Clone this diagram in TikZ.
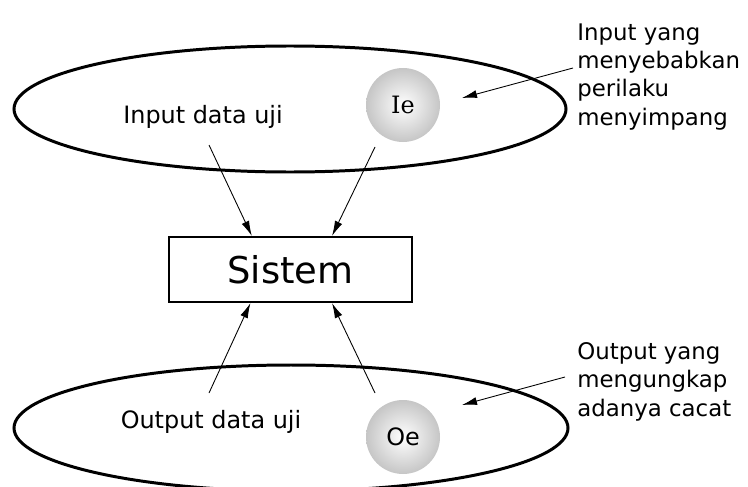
\documentclass[tikz,border=0pt]{standalone}
\usepackage{fontspec}
\setmainfont{DejaVu Sans}
\newfontfamily\hurufserif{DejaVu Serif}
\usetikzlibrary{arrows.meta}
\tikzset{
  domain line/.style={line width=1.7pt},
  bola/.style={circle, minimum size=1.48cm, inner sep=0pt, inner color=white, outer color=gray!45},
  teks/.style={font=\fontsize{13.6}{16}\selectfont},
  panah/.style={-{Latex[length=3mm,width=1.6mm]}, line width=0.5pt},
  catatan/.style={anchor=north west, align=left, inner sep=0pt, font=\fontsize{13}{16.2}\selectfont}
}
\begin{document}
\begin{tikzpicture}
\useasboundingbox (0,0) rectangle (14.96,9.72);

% Domain input dan output
\draw [domain line] (5.8,7.54) ellipse (5.52cm and 1.26cm);
\draw [domain line] (5.82,1.16) ellipse (5.54cm and 1.26cm);

% Bola Ie dan Oe
\node [bola, teks] (ie) at (8.06,7.62) {\hurufserif Ie};
\node [bola, teks] (oe) at (8.06,0.98) {Oe};

% Teks di dalam domain
\node [teks] (input) at (4.06,7.38) {Input data uji};
\node [teks] (output) at (4.22,1.28) {Output data uji};

% Sistem
\node [draw, line width=1.3pt, minimum width=4.86cm, minimum height=1.3cm,
  font=\fontsize{21}{25}\selectfont] (sistem) at (5.81,4.33) {Sistem};

% Panah ke dan dari sistem
\coordinate (a1) at (4.18,6.82);
\coordinate (a2) at (7.5,6.78);
\coordinate (b1) at (4.18,1.86);
\coordinate (b2) at (7.5,1.86);
\draw [panah] (a1) -- (sistem.139);
\draw [panah] (a2) -- (sistem.39.4);
\draw [panah] (b1) -- (sistem.220.9);
\draw [panah] (b2) -- (sistem.-39.4);

% Catatan
\node [catatan] (cat1) at (11.54,9.26) {Input yang\\menyebabkan\\perilaku\\menyimpang};
\node [catatan] (cat2) at (11.54,2.88) {Output yang\\mengungkap\\adanya cacat};
\coordinate (t1) at (9.24,7.76);
\coordinate (t2) at (9.24,1.62);
\draw [panah] ([xshift=-0.08cm,yshift=-0.9cm]cat1.north west) -- (t1);
\draw [panah] ([xshift=-0.24cm,yshift=-0.7cm]cat2.north west) -- (t2);
\end{tikzpicture}
\end{document}
